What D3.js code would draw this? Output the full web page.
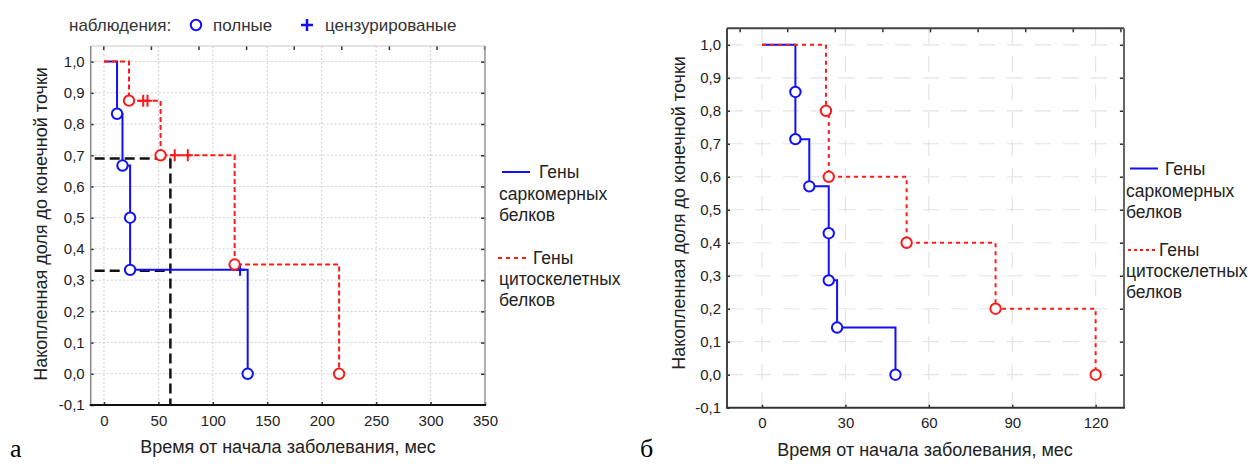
<!DOCTYPE html>
<html>
<head>
<meta charset="utf-8">
<script src="https://cdn.jsdelivr.net/npm/d3@7"></script>
<style>
  html, body { margin: 0; padding: 0; background: #fff; }
  svg { display: block; font-family: "Liberation Sans", Arial, sans-serif; }
</style>
</head>
<body>
<svg id="chart" width="1254" height="464"></svg>
<script>
// ---- Panel а: cumulative share to end point, months since onset ----
const aSarcTimes   = [0, 12, 17, 24, 24, 132];
const aSarcValues  = [1, 0.833, 0.667, 0.5, 0.333, 0];
const aSarcCensT   = [125];
const aSarcCensV   = [0.333];

const aCytoTimes   = [0, 23, 52, 120, 216];
const aCytoValues  = [1, 0.875, 0.7, 0.35, 0];
const aCytoCensT   = [36, 40, 65, 77];
const aCytoCensV   = [0.875, 0.875, 0.7, 0.7];

// reference (median-style) guide lines
const aGuideLevels = [0.69, 0.33];
const aGuideTime   = 61;

const aXTicks = [0, 50, 100, 150, 200, 250, 300, 350];

// ---- Panel б ----
const bSarcTimes   = [0, 12, 12, 17, 24, 24, 27, 48];
const bSarcValues  = [1, 0.857, 0.714, 0.571, 0.429, 0.286, 0.143, 0];

const bCytoTimes   = [0, 23, 24, 52, 84, 120];
const bCytoValues  = [1, 0.8, 0.6, 0.4, 0.2, 0];

const bXTicks = [0, 30, 60, 90, 120];

const yTicks = [-0.1, 0, 0.1, 0.2, 0.3, 0.4, 0.5, 0.6, 0.7, 0.8, 0.9, 1.0];

const seriesNames = ["Гены", "саркомерных", "белков", "Гены", "цитоскелетных", "белков"];
const xTitle = "Время от начала заболевания, мес";
const yTitle = "Накопленная доля до конечной точки";

const BLUE = "#1010ff";
const RED = "#ff1a1a";
const TXT = "#222";

const svg = d3.select("#chart");
const fmt = d => (d < 0 ? "-" : "") + Math.abs(d).toFixed(1).replace(".", ",");
const zip = (a, b) => a.map((t, i) => [t, b[i]]);

function panel(cfg) {
  const g = svg.append("g");
  const x = d3.scaleLinear().domain(cfg.xDomain).range([cfg.left, cfg.right]);
  const y = d3.scaleLinear().domain([-0.1, 1.05]).range([cfg.bottom, cfg.top]);

  // grid
  const grid = g.append("g").attr("stroke", cfg.gridColor).attr("stroke-width", cfg.gridWidth)
    .attr("stroke-dasharray", cfg.gridDash);
  grid.selectAll(".gx").data(cfg.xTicks).join("line")
    .attr("x1", d => x(d)).attr("x2", d => x(d)).attr("y1", cfg.top).attr("y2", cfg.bottom);
  grid.selectAll(".gy").data(yTicks.filter(d => d > -0.1)).join("line")
    .attr("y1", d => y(d)).attr("y2", d => y(d)).attr("x1", cfg.left).attr("x2", cfg.right);

  // axes (inward ticks)
  const ax = g.append("g").attr("transform", `translate(0,${cfg.bottom})`)
    .call(d3.axisBottom(x).tickValues(cfg.xTicks).tickSize(-3).tickPadding(10).tickFormat(d3.format("d")));
  const ay = g.append("g").attr("transform", `translate(${cfg.left},0)`)
    .call(d3.axisLeft(y).tickValues(yTicks).tickSize(-3).tickPadding(6).tickFormat(fmt));
  const ar = g.append("g").attr("transform", `translate(${cfg.right},0)`)
    .call(d3.axisRight(y).tickValues(yTicks.filter(d => d > -0.1)).tickSize(-4).tickFormat(""));
  const topScale = d3.scaleLinear().domain([0, 8]).range([cfg.left + 12.6, cfg.left + 12.6 + 8 * 47.6]);
  const at = g.append("g").attr("transform", `translate(0,${cfg.top})`)
    .call(d3.axisTop(topScale).ticks(8).tickSize(-4).tickFormat(""));
  [ax, ay, ar, at].forEach(a => {
    a.select(".domain").remove();
    a.selectAll(".tick line").attr("stroke", "#333").attr("stroke-width", 1.5);
    a.selectAll("text").attr("fill", TXT).style("font-size", "15px")
      .style("font-family", "'Liberation Sans', Arial, sans-serif");
  });

  // frame
  const fr = g.append("g").attr("fill", "none");
  fr.append("line").attr("x1", cfg.left).attr("x2", cfg.right).attr("y1", cfg.top).attr("y2", cfg.top)
    .attr("stroke", cfg.frame.top[0]).attr("stroke-width", cfg.frame.top[1]);
  fr.append("line").attr("x1", cfg.right).attr("x2", cfg.right).attr("y1", cfg.top).attr("y2", cfg.bottom)
    .attr("stroke", cfg.frame.right[0]).attr("stroke-width", cfg.frame.right[1]);
  fr.append("line").attr("x1", cfg.left).attr("x2", cfg.left).attr("y1", cfg.top).attr("y2", cfg.bottom)
    .attr("stroke", cfg.frame.left[0]).attr("stroke-width", cfg.frame.left[1]);
  fr.append("line").attr("x1", cfg.left - 1).attr("x2", cfg.right + 1).attr("y1", cfg.bottom).attr("y2", cfg.bottom)
    .attr("stroke", cfg.frame.bottom[0]).attr("stroke-width", cfg.frame.bottom[1]);

  // titles
  g.append("text").attr("x", cfg.xTitleX).attr("y", cfg.xTitleY)
    .attr("text-anchor", "middle").attr("fill", TXT).style("font-size", "18px").text(xTitle);
  g.append("text").attr("transform", `translate(${cfg.yTitleX},${cfg.yTitleY}) rotate(-90)`)
    .attr("dy", "0.35em").attr("text-anchor", "middle").attr("fill", TXT).style("font-size", "18px").text(yTitle);
  g.append("text").attr("x", cfg.letterX).attr("y", 457)
    .style("font-family", "'Liberation Serif', 'Times New Roman', serif").style("font-size", "26px")
    .attr("fill", "#000").text(cfg.letter);

  const step = d3.line().x(d => x(d[0])).y(d => y(d[1])).curve(d3.curveStepAfter);
  const plot = g.append("g");

  // guide lines
  if (cfg.guides) {
    const gl = plot.append("g").attr("stroke", "#111").attr("stroke-width", 2.5)
      .attr("stroke-dasharray", "10,5").attr("fill", "none");
    gl.selectAll("line.h").data(cfg.guides.levels).join("line")
      .attr("x1", x(cfg.xDomain[0]) + 4).attr("x2", x(cfg.guides.time))
      .attr("y1", d => y(d)).attr("y2", d => y(d));
    gl.append("line").attr("x1", x(cfg.guides.time)).attr("x2", x(cfg.guides.time))
      .attr("y1", y(d3.max(cfg.guides.levels))).attr("y2", cfg.bottom);
  }

  cfg.series.forEach(s => {
    const pts = zip(s.times, s.values);
    plot.append("path").attr("d", step(pts)).attr("fill", "none")
      .attr("stroke", s.color).attr("stroke-width", s.width)
      .attr("stroke-dasharray", s.dash || null);
    if (s.censT) {
      plot.selectAll(null).data(zip(s.censT, s.censV)).join("path")
        .attr("d", d => `M${x(d[0])},${y(d[1]) - 6}V${y(d[1]) + 6}M${x(d[0]) - 5},${y(d[1])}H${x(d[0]) + 5}`)
        .attr("stroke", s.color).attr("stroke-width", 2).attr("fill", "none");
    }
    plot.selectAll(null).data(pts.slice(1)).join("circle")
      .attr("cx", d => x(d[0])).attr("cy", d => y(d[1])).attr("r", 5.2)
      .attr("fill", "#fff").attr("stroke", s.color).attr("stroke-width", 2);
  });

  // series legend
  const lg = g.append("g").style("font-size", "17.5px").attr("fill", TXT);
  const L = cfg.legend;
  lg.append("line").attr("x1", L.x1).attr("x2", L.x1 + 28).attr("y1", L.y1).attr("y2", L.y1)
    .attr("stroke", BLUE).attr("stroke-width", 2);
  lg.append("line").attr("x1", L.x2).attr("x2", L.x2 + 28).attr("y1", L.y2).attr("y2", L.y2)
    .attr("stroke", RED).attr("stroke-width", 2).attr("stroke-dasharray", cfg.legendDash);
  lg.append("text").attr("x", L.t1).attr("y", L.y1 + 6).text(seriesNames[0]);
  lg.append("text").attr("x", L.tx).attr("y", L.y1 + 6 + 22).text(seriesNames[1]);
  lg.append("text").attr("x", L.tx).attr("y", L.y1 + 6 + 43).text(seriesNames[2]);
  lg.append("text").attr("x", L.t2).attr("y", L.y2 + 6).text(seriesNames[3]);
  lg.append("text").attr("x", L.tx).attr("y", L.y2 + 6 + 21).text(seriesNames[4]);
  lg.append("text").attr("x", L.tx).attr("y", L.y2 + 6 + 42).text(seriesNames[5]);

  return { g, x, y };
}

// Panel а
panel({
  left: 90.7, right: 485, top: 46, bottom: 405,
  xDomain: [-12.2, 350], xTicks: aXTicks,
  gridColor: "#cfcfcf", gridWidth: 1, gridDash: "2,2",
  frame: { top: ["#c8c8c8", 1.2], right: ["#999", 1.5], left: ["#888", 1.5], bottom: ["#111", 2] },
  xTitleX: 288, xTitleY: 453, yTitleX: 41, yTitleY: 224,
  letter: "а", letterX: 10,
  guides: { levels: aGuideLevels, time: aGuideTime },
  series: [
    { times: aSarcTimes, values: aSarcValues, censT: aSarcCensT, censV: aSarcCensV, color: BLUE, width: 2 },
    { times: aCytoTimes, values: aCytoValues, censT: aCytoCensT, censV: aCytoCensV, color: RED, width: 2, dash: "5,3" }
  ],
  legend: { x1: 502, y1: 172, x2: 498, y2: 258, t1: 539, t2: 533, tx: 499 },
  legendDash: "4,4"
});

// Panel б
panel({
  left: 727, right: 1124, top: 28.3, bottom: 407.7,
  xDomain: [-12.6, 130.2], xTicks: bXTicks,
  gridColor: "#e4e4e4", gridWidth: 1.2, gridDash: "16,12",
  frame: { top: ["#444", 2], right: ["#666", 2], left: ["#444", 2], bottom: ["#333", 2] },
  xTitleX: 925, xTitleY: 456, yTitleX: 679, yTitleY: 213,
  letter: "б", letterX: 640,
  series: [
    { times: bSarcTimes, values: bSarcValues, color: BLUE, width: 2 },
    { times: bCytoTimes, values: bCytoValues, color: RED, width: 2, dash: "4,4" }
  ],
  legend: { x1: 1130, y1: 168.5, x2: 1128, y2: 250, t1: 1165, t2: 1159, tx: 1126 },
  legendDash: "3,3"
});

// observation-type key above panel а
const key = svg.append("g").style("font-size", "17px").attr("fill", "#333");
key.append("text").attr("x", 69).attr("y", 31).text("наблюдения:");
key.append("circle").attr("cx", 196).attr("cy", 25).attr("r", 5.2).attr("fill", "#fff")
  .attr("stroke", BLUE).attr("stroke-width", 2);
key.append("text").attr("x", 213).attr("y", 31).text("полные");
key.append("path").attr("d", "M307,19V31M301,25H313").attr("stroke", BLUE).attr("stroke-width", 2.5);
key.append("text").attr("x", 325).attr("y", 31).text("цензурированые");
</script>
</body>
</html>
